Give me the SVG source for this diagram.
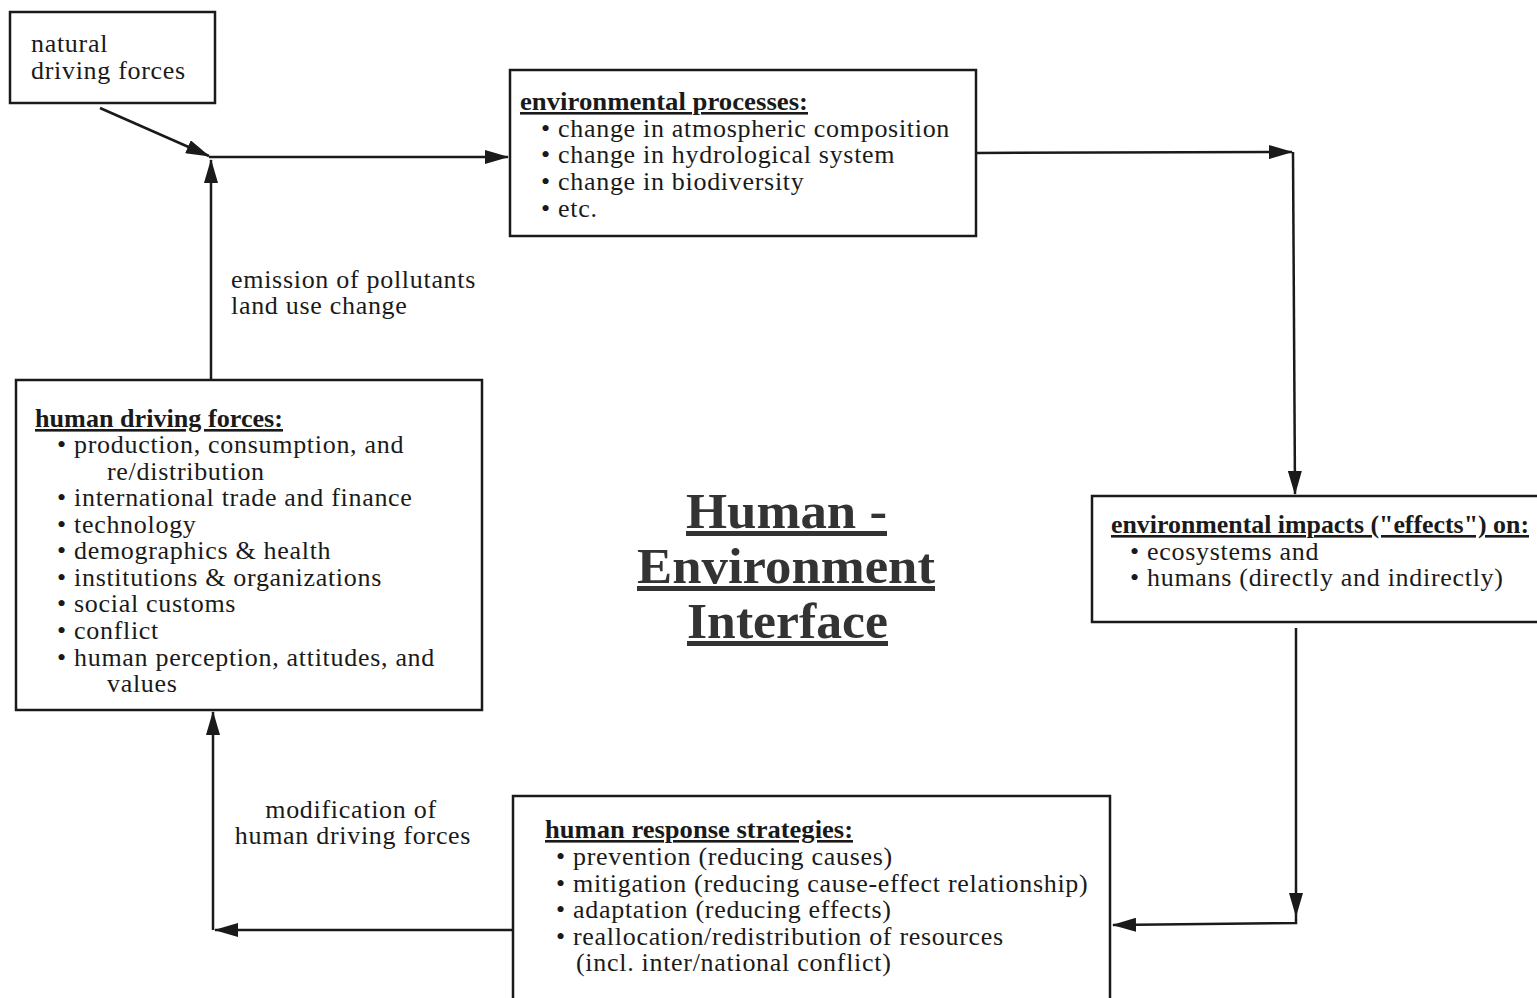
<svg xmlns="http://www.w3.org/2000/svg" width="1537" height="998" viewBox="0 0 1537 998">
<defs>
<marker id="ah" markerUnits="userSpaceOnUse" markerWidth="24" markerHeight="14" refX="23" refY="7" orient="auto" viewBox="0 0 24 14">
<path d="M0,0 L24,7 L0,14 z" fill="#1a1a1a"/>
</marker>
<style>
.box{fill:#fff;stroke:#1a1a1a;stroke-width:2.5}
.t{font-family:"Liberation Serif","Times New Roman",serif;font-size:26px;fill:#1a1a1a;letter-spacing:0.7px}
.h{font-weight:bold;text-decoration:underline;letter-spacing:0}
.c{fill:none;stroke:#1a1a1a;stroke-width:2.5}
.title{font-family:"Liberation Serif","Times New Roman",serif;font-size:50px;font-weight:bold;fill:#333;text-anchor:middle;text-decoration:underline}
</style>
</defs>
<rect width="1537" height="998" fill="#fff"/>
<g id="connectors">
<path class="c" d="M100,108 L209,156" marker-end="url(#ah)"/>
<path class="c" d="M209,157 L508,157" marker-end="url(#ah)"/>
<path class="c" d="M211,380 L211,160" marker-end="url(#ah)"/>
<path class="c" d="M976,153 L1292,152" marker-end="url(#ah)"/>
<path class="c" d="M1293,152 L1295,494" marker-end="url(#ah)"/>
<path class="c" d="M1296,628 L1296,916" marker-end="url(#ah)"/>
<path class="c" d="M1296,916 L1296,923 L1113,925" marker-end="url(#ah)"/>
<path class="c" d="M513,930 L215,930" marker-end="url(#ah)"/>
<path class="c" d="M213,930 L213,712" marker-end="url(#ah)"/>
</g>
<g id="natural">
<rect class="box" x="10" y="12" width="205" height="91"/>
<text class="t" x="31" y="52">natural</text>
<text class="t" x="31" y="79">driving forces</text>
</g>
<g id="env-processes">
<rect class="box" x="510" y="70" width="466" height="166"/>
<text class="t h" x="520" y="110" textLength="288" lengthAdjust="spacingAndGlyphs">environmental processes:</text>
<text class="t" x="541" y="137">• change in atmospheric composition</text>
<text class="t" x="541" y="163">• change in hydrological system</text>
<text class="t" x="541" y="190">• change in biodiversity</text>
<text class="t" x="541" y="217">• etc.</text>
</g>
<g id="env-impacts">
<rect class="box" x="1092" y="496" width="450" height="126"/>
<text class="t h" x="1111" y="533" textLength="418" lengthAdjust="spacingAndGlyphs">environmental impacts ("effects") on:</text>
<text class="t" x="1130" y="560">• ecosystems and</text>
<text class="t" x="1130" y="586">• humans (directly and indirectly)</text>
</g>
<g id="human-driving">
<rect class="box" x="16" y="380" width="466" height="330"/>
<text class="t h" x="35" y="427" textLength="248" lengthAdjust="spacingAndGlyphs">human driving forces:</text>
<text class="t" x="57" y="453">• production, consumption, and</text>
<text class="t" x="107" y="480">re/distribution</text>
<text class="t" x="57" y="506">• international trade and finance</text>
<text class="t" x="57" y="533">• technology</text>
<text class="t" x="57" y="559">• demographics &amp; health</text>
<text class="t" x="57" y="586">• institutions &amp; organizations</text>
<text class="t" x="57" y="612">• social customs</text>
<text class="t" x="57" y="639">• conflict</text>
<text class="t" x="57" y="666">• human perception, attitudes, and</text>
<text class="t" x="107" y="692">values</text>
</g>
<g id="human-response">
<rect class="box" x="513" y="796" width="597" height="204"/>
<text class="t h" x="545" y="838" textLength="308" lengthAdjust="spacingAndGlyphs">human response strategies:</text>
<text class="t" x="556" y="865">• prevention (reducing causes)</text>
<text class="t" x="556" y="892">• mitigation (reducing cause-effect relationship)</text>
<text class="t" x="556" y="918">• adaptation (reducing effects)</text>
<text class="t" x="556" y="945">• reallocation/redistribution of resources</text>
<text class="t" x="576" y="971">(incl. inter/national conflict)</text>
</g>
<g id="labels">
<text class="t" x="231" y="288">emission of pollutants</text>
<text class="t" x="231" y="314">land use change</text>
<text class="t" x="351" y="818" text-anchor="middle">modification of</text>
<text class="t" x="353" y="844" text-anchor="middle">human driving forces</text>
</g>
<g id="title">
<text class="title" x="686" y="528" textLength="201" lengthAdjust="spacingAndGlyphs" style="text-anchor:start">Human -</text>
<text class="title" x="637" y="583" textLength="298" lengthAdjust="spacingAndGlyphs" style="text-anchor:start">Environment</text>
<text class="title" x="687" y="638" textLength="201" lengthAdjust="spacingAndGlyphs" style="text-anchor:start">Interface</text>
</g>
</svg>
